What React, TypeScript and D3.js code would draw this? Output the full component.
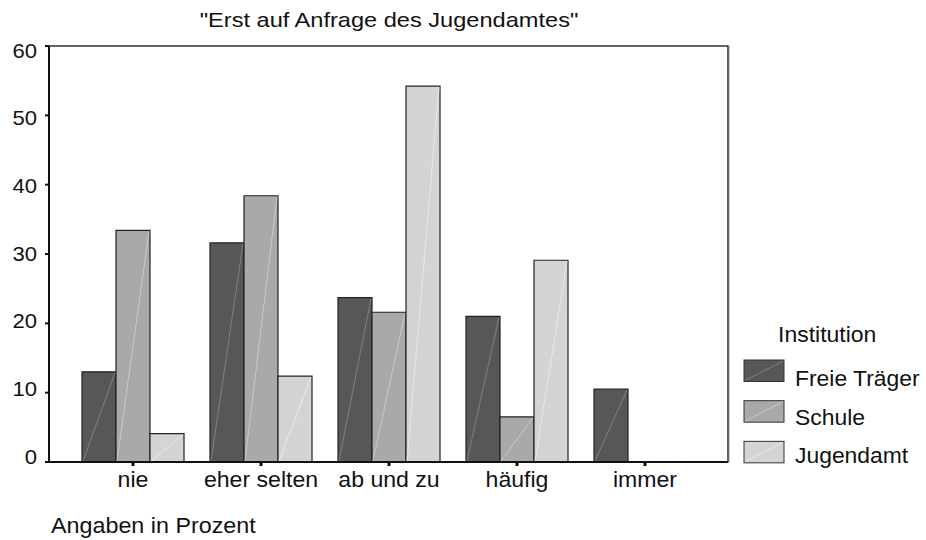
import React from 'react';
import * as d3 from 'd3';

const categories = ['nie', 'eher selten', 'ab und zu', 'häufig', 'immer'];
const institutions = ['Freie Träger', 'Schule', 'Jugendamt'];
const freieTraeger = [13.0, 31.6, 23.7, 21.0, 10.5];
const schule = [33.4, 38.4, 21.6, 6.5, 0];
const jugendamt = [4.1, 12.4, 54.2, 29.1, 0];
const yTicks = [0, 10, 20, 30, 40, 50, 60];

const fills = ['#575757', '#a9a9a9', '#d4d4d4'];
const diag = ['#8a8a8a', '#d0d0d0', '#ededed'];
const font = '"Liberation Sans", Arial, Helvetica, sans-serif';

// the original output is a bit wider than Arial, so text gets stretched sideways
const Label = ({ x, y, sx = 1.05, size = 22, anchor = 'start', baseline = undefined, children }) => (
  <text transform={`translate(${x},${y}) scale(${sx},1)`} textAnchor={anchor}
    dominantBaseline={baseline} fontSize={size} fill="#111">{children}</text>
);

const App = () => {
  const width = 926;
  const height = 540;
  const left = 49, right = 728, top = 46, bottom = 462;

  const series = [freieTraeger, schule, jugendamt];

  const x = d3.scaleBand()
    .domain(categories)
    .range([69, 709])
    .paddingInner(0.203)
    .paddingOuter(0.1015);
  const xSub = d3.scaleBand()
    .domain(institutions)
    .range([0, x.bandwidth()]);
  const y = d3.scaleLinear().domain([0, 60]).range([bottom, top]);
  // SPSS spreads the tick labels a bit, so they are not exactly on the ticks
  const yLabel = d3.scaleLinear().domain([0, 60]).range([457, 51]);

  const legendY = d3.scaleBand().domain(institutions).range([360, 482]);
  const legendText = d3.scalePoint().domain(institutions).range([386, 463]);

  const barPath = (x0, w, v) => {
    const y0 = y(0), y1 = y(v);
    return `M${x0},${y0}H${x0 + w}V${y1}H${x0}Z`;
  };

  return (
    <svg width={width} height={height} style={{ display: 'block', position: 'absolute', left: 0, top: 0 }}
      fontFamily={font}>
      <rect width={width} height={height} fill="#fff" />
      <Label x={389} y={27} size={20} sx={1.18} anchor="middle">"Erst auf Anfrage des Jugendamtes"</Label>

      {/* bars */}
      {categories.map((c, ci) => (
        <g key={c} transform={`translate(${x(c)},0)`}>
          {institutions.map((inst, si) => {
            const v = series[si][ci];
            const bx = xSub(inst);
            const bw = xSub.bandwidth();
            return (
              <g key={inst}>
                <path d={barPath(bx, bw, v)} fill={fills[si]} stroke="#222" strokeWidth={1.2} />
                {v > 0 && (
                  <line x1={bx + 1} y1={y(0) - 1} x2={bx + bw - 1} y2={y(v) + 1}
                    stroke={diag[si]} strokeWidth={0.8} />
                )}
              </g>
            );
          })}
        </g>
      ))}

      {/* frame */}
      <rect x={left} y={top} width={right - left} height={bottom - top} fill="none" stroke="#111" strokeWidth={1.3} />
      <line x1={right + 1.5} y1={top} x2={right + 1.5} y2={bottom} stroke="#ccc" strokeWidth={1} />
      <line x1={left} y1={bottom} x2={right} y2={bottom} stroke="#111" strokeWidth={2} />
      <line x1={left} y1={top} x2={left} y2={bottom} stroke="#111" strokeWidth={2} />

      {/* y axis */}
      {yTicks.map(t => (
        <g key={t}>
          <line x1={left - 4} x2={left} y1={y(t)} y2={y(t)} stroke="#111" strokeWidth={2} />
          <Label x={37} y={yLabel(t)} size={21} sx={1.05} anchor="end" baseline="central">{t}</Label>
        </g>
      ))}

      {/* x axis */}
      {categories.map(c => {
        const cx = x(c) + x.bandwidth() / 2;
        return (
          <g key={c}>
            <line x1={cx} x2={cx} y1={bottom} y2={bottom + 4} stroke="#111" strokeWidth={3} />
            <Label x={cx} y={487} sx={1.05} anchor="middle">{c}</Label>
          </g>
        );
      })}

      {/* legend */}
      <Label x={778} y={342} sx={1.045}>Institution</Label>
      {institutions.map((inst, i) => {
        const ly = legendY(inst);
        return (
          <g key={inst}>
            <rect x={744} y={ly} width={40} height={21.5} fill={fills[i]} stroke="#333" strokeWidth={1} />
            <line x1={745} y1={ly + 20.5} x2={783} y2={ly + 1} stroke={diag[i]} strokeWidth={0.8} />
            <Label x={795} y={legendText(inst)} sx={1.04}>{inst}</Label>
          </g>
        );
      })}

      <Label x={51} y={533} sx={1.06}>Angaben in Prozent</Label>
    </svg>
  );
};

export default App;
